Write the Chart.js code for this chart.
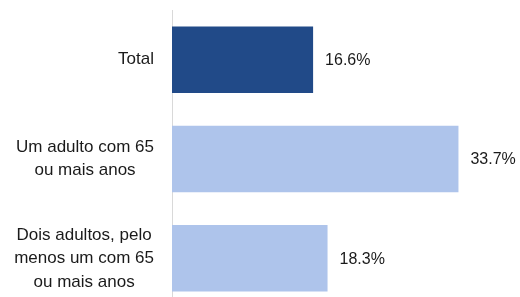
<!DOCTYPE html>
<html lang="pt">
<head>
    <meta charset="utf-8">
    <title>Agregados com idosos</title>
    <script src="https://cdn.jsdelivr.net/npm/chart.js@4/dist/chart.umd.min.js"></script>
</head>
<style>
    html, body { margin: 0; padding: 0; overflow: hidden; background: #fff; }
    #holder { width: 520px; height: 308px; }
</style>
<body>
<div id="holder">
    <canvas id="chart"></canvas>
</div>
<script>
    // categories (each one split into lines as in the original)
    const categories = [
        ['Total'],
        ['Um adulto com 65', 'ou mais anos'],
        ['Dois adultos, pelo', 'menos um com 65', 'ou mais anos']
    ];
    const values = [16.6, 33.7, 18.3];
    const barColors = ['#214a88', '#aec4eb', '#aec4eb'];

    const labelFont = '17px "Liberation Sans", Arial, sans-serif';
    const valueFont = '16px "Liberation Sans", Arial, sans-serif';

    // category labels: each block right aligned, lines centred on the widest
    const catLabels = {
        id: 'catLabels',
        afterDraw(chart) {
            const ctx = chart.ctx;
            const y = chart.scales.y;
            const right = chart.chartArea.left - 18;
            const lh = 23.5;
            ctx.save();
            ctx.font = labelFont;
            ctx.fillStyle = '#1a1a1a';
            ctx.textAlign = 'center';
            ctx.textBaseline = 'middle';
            categories.forEach(function (lines, i) {
                const widest = Math.max.apply(null, lines.map(function (l) { return ctx.measureText(l).width; }));
                const cx = right - widest / 2;
                const cy = y.getPixelForTick(i);
                lines.forEach(function (l, j) {
                    ctx.fillText(l, cx, cy + (j - (lines.length - 1) / 2) * lh);
                });
            });
            ctx.restore();
        }
    };

    // value labels at the end of each bar
    const valueLabels = {
        id: 'valueLabels',
        afterDatasetsDraw(chart) {
            const ctx = chart.ctx;
            const meta = chart.getDatasetMeta(0);
            ctx.save();
            ctx.font = valueFont;
            ctx.fillStyle = '#1a1a1a';
            ctx.textAlign = 'left';
            ctx.textBaseline = 'middle';
            meta.data.forEach(function (bar, i) {
                ctx.fillText(values[i].toFixed(1) + '%', bar.x + 12, bar.y + 1);
            });
            ctx.restore();
        }
    };

    const config = {
        type: 'bar',
        data: {
            labels: categories,
            datasets: [{
                data: values,
                backgroundColor: barColors,
                borderWidth: 0,
                barPercentage: 0.67,
                categoryPercentage: 1
            }]
        },
        options: {
            indexAxis: 'y',
            responsive: true,
            maintainAspectRatio: false,
            animation: false,
            layout: { padding: { top: 10, right: 8, bottom: 0, left: 0 } },
            plugins: {
                legend: { display: false },
                tooltip: { enabled: false }
            },
            scales: {
                x: {
                    display: false,
                    min: 0,
                    max: 40
                },
                y: {
                    grid: { display: false },
                    border: { display: true, color: '#d9d9d9', width: 1 },
                    ticks: { display: false },
                    afterFit: function (scale) { scale.width = 172; }
                }
            }
        },
        plugins: [catLabels, valueLabels]
    };

    new Chart(document.getElementById('chart').getContext('2d'), config);
</script>
</body>
</html>
